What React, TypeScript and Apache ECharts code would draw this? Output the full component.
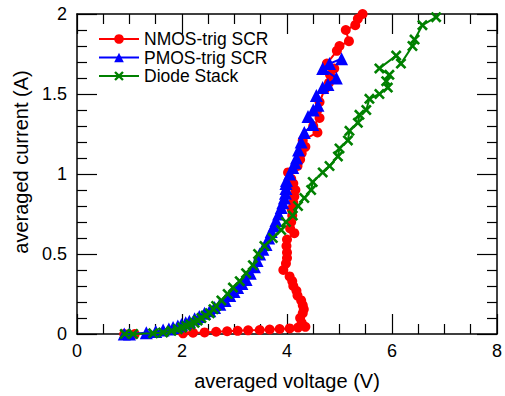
import React, { useEffect, useRef } from "react";
import * as echarts from "echarts";

const seriesNames = ["NMOS-trig SCR", "PMOS-trig SCR", "Diode Stack"];

const nmosVoltage = [0.9, 1.1, 2.02, 2.21, 2.43, 2.65, 2.86, 3.06, 3.26, 3.48, 3.67, 3.86, 4.05, 4.21, 4.35, 4.28, 4.25, 4.3, 4.32, 4.3, 4.27, 4.2, 4.18, 4.12, 4.1, 4.05, 3.93, 3.98, 4.0, 4.0, 3.99, 4.0, 4.14, 4.06, 4.08, 4.1, 4.09, 4.12, 4.14, 4.16, 4.12, 4.08, 4.02, 4.2, 4.25, 4.28, 4.35, 4.3, 4.58, 4.5, 4.62, 4.58, 4.62, 4.72, 4.8, 4.82, 4.9, 4.76, 4.95, 5.0, 5.18, 5.12, 5.3, 5.35, 5.44];
const nmosCurrent = [0, 0, 0.004, 0.008, 0.01, 0.014, 0.017, 0.02, 0.023, 0.025, 0.028, 0.031, 0.035, 0.04, 0.045, 0.07, 0.1, 0.13, 0.155, 0.18, 0.21, 0.24, 0.27, 0.3, 0.33, 0.36, 0.4, 0.44, 0.475, 0.51, 0.55, 0.59, 0.63, 0.66, 0.7, 0.74, 0.78, 0.82, 0.86, 0.9, 0.94, 0.97, 1.01, 1.05, 1.09, 1.13, 1.17, 1.21, 1.26, 1.3, 1.35, 1.4, 1.45, 1.53, 1.57, 1.62, 1.66, 1.69, 1.77, 1.8, 1.83, 1.9, 1.93, 1.97, 2.0];

const pmosVoltage = [0.9, 1.0, 1.32, 1.5, 1.64, 1.75, 1.83, 1.92, 1.99, 2.07, 2.14, 2.24, 2.33, 2.43, 2.53, 2.62, 2.72, 2.82, 2.91, 2.99, 3.06, 3.14, 3.22, 3.3, 3.38, 3.43, 3.48, 3.54, 3.6, 3.65, 3.7, 3.75, 3.79, 3.84, 3.89, 3.92, 3.95, 3.97, 3.98, 3.98, 3.99, 4.05, 4.11, 4.15, 4.18, 4.22, 4.27, 4.33, 4.49, 4.4, 4.5, 4.59, 4.56, 4.68, 4.78, 4.94, 4.68, 4.81, 5.04];
const pmosCurrent = [0, 0, 0.008, 0.015, 0.025, 0.032, 0.04, 0.05, 0.06, 0.07, 0.08, 0.095, 0.11, 0.13, 0.145, 0.165, 0.186, 0.21, 0.24, 0.265, 0.29, 0.315, 0.34, 0.38, 0.42, 0.46, 0.5, 0.53, 0.56, 0.6, 0.64, 0.675, 0.71, 0.75, 0.79, 0.82, 0.85, 0.88, 0.91, 0.94, 0.96, 1.0, 1.04, 1.07, 1.1, 1.15, 1.2, 1.26, 1.31, 1.36, 1.4, 1.43, 1.49, 1.54, 1.56, 1.6, 1.66, 1.69, 1.72];

const diodeVoltage = [0.91, 1.07, 1.45, 1.64, 1.8, 1.92, 2.0, 2.08, 2.16, 2.24, 2.3, 2.37, 2.45, 2.53, 2.6, 2.65, 2.75, 2.87, 2.97, 3.1, 3.22, 3.35, 3.45, 3.57, 3.73, 3.89, 3.98, 4.11, 4.21, 4.33, 4.46, 4.49, 4.68, 4.81, 4.97, 5.0, 5.16, 5.19, 5.35, 5.38, 5.51, 5.57, 5.76, 5.92, 5.89, 5.95, 5.76, 6.08, 6.17, 6.39, 6.43, 6.58, 6.84];
const diodeCurrent = [0, 0, 0.004, 0.01, 0.02, 0.03, 0.04, 0.05, 0.06, 0.07, 0.085, 0.1, 0.115, 0.13, 0.155, 0.175, 0.21, 0.25, 0.29, 0.33, 0.38, 0.43, 0.5, 0.55, 0.6, 0.65, 0.7, 0.74, 0.8, 0.85, 0.9, 0.95, 1.01, 1.05, 1.11, 1.16, 1.21, 1.27, 1.32, 1.37, 1.4, 1.47, 1.5, 1.54, 1.58, 1.62, 1.66, 1.74, 1.69, 1.8, 1.84, 1.93, 1.98];

const xTicks = [0, 2, 4, 6, 8];
const yTicks = [0, 0.5, 1, 1.5, 2];

const zip = (xs: number[], ys: number[]) => xs.map((x, i) => [x, ys[i]]);

const crossPath =
  "path://M0,1.7L1.7,0L5,3.3L8.3,0L10,1.7L6.7,5L10,8.3L8.3,10L5,6.7L1.7,10L0,8.3L3.3,5Z";

const FONT = "Liberation Sans, Arial, sans-serif";

export default function App() {
  const ref = useRef<HTMLDivElement>(null);
  useEffect(() => {
    if (!ref.current) return;
    const chart = echarts.init(ref.current, null, { renderer: "svg" });
    const axisCommon = {
      type: "value" as const,
      axisLine: { show: true, onZero: false, lineStyle: { color: "#000", width: 1.5 } },
      axisTick: { show: true, inside: true, length: 20, lineStyle: { color: "#000", width: 1.2 } },
      minorTick: { show: true, splitNumber: 4, length: 10, lineStyle: { color: "#000", width: 1.2 } },
      splitLine: { show: false },
    };
    const xCommon = { ...axisCommon, min: xTicks[0], max: xTicks[xTicks.length - 1], interval: xTicks[1] - xTicks[0] };
    const yCommon = { ...axisCommon, min: yTicks[0], max: yTicks[yTicks.length - 1], interval: yTicks[1] - yTicks[0], minorTick: { ...axisCommon.minorTick, splitNumber: 5 } };
    chart.setOption({
      animation: false,
      backgroundColor: "#fff",
      textStyle: { fontFamily: FONT },
      grid: { left: 77, right: 7, top: 14, bottom: 59, containLabel: false },
      legend: {
        orient: "vertical",
        left: 98,
        top: 30,
        padding: 0,
        itemWidth: 40,
        itemHeight: 12,
        itemGap: 0.5,
        textStyle: { fontFamily: FONT, fontSize: 17.5, color: "#000", lineHeight: 18 },
        data: seriesNames,
      },
      xAxis: [
        {
          ...xCommon,
          position: "bottom",
          name: "averaged voltage (V)",
          nameLocation: "middle",
          nameGap: 37,
          nameTextStyle: { fontFamily: FONT, fontSize: 20, color: "#000" },
          axisLabel: { show: true, fontFamily: FONT, fontSize: 18, color: "#000", margin: 8 },
        },
        { ...xCommon, position: "top", axisLabel: { show: false } },
      ],
      yAxis: [
        {
          ...yCommon,
          position: "left",
          name: "averaged current (A)",
          nameLocation: "middle",
          nameGap: 44,
          nameTextStyle: { fontFamily: FONT, fontSize: 20, color: "#000", padding: [0, 0, 0, 24] },
          axisLabel: { show: true, fontFamily: FONT, fontSize: 18, color: "#000", margin: 10 },
        },
        { ...yCommon, position: "right", axisLabel: { show: false } },
      ],
      series: [
        {
          name: seriesNames[0],
          type: "line",
          data: zip(nmosVoltage, nmosCurrent),
          symbol: "circle",
          symbolSize: 10,
          lineStyle: { color: "#ff0000", width: 2 },
          itemStyle: { color: "#ff0000" },
          z: 2,
        },
        {
          name: seriesNames[1],
          type: "line",
          data: zip(pmosVoltage, pmosCurrent),
          symbol: "triangle",
          symbolSize: 13,
          lineStyle: { color: "#0000ff", width: 2 },
          itemStyle: { color: "#0000ff" },
          z: 3,
        },
        {
          name: seriesNames[2],
          type: "line",
          data: zip(diodeVoltage, diodeCurrent),
          symbol: crossPath,
          symbolSize: 11,
          lineStyle: { color: "#008000", width: 2 },
          itemStyle: { color: "#008000" },
          z: 4,
        },
      ],
    });
    return () => chart.dispose();
  }, []);
  return <div ref={ref} style={{ width: 505, height: 396, position: "absolute", left: 0, top: 0 }} />;
}
